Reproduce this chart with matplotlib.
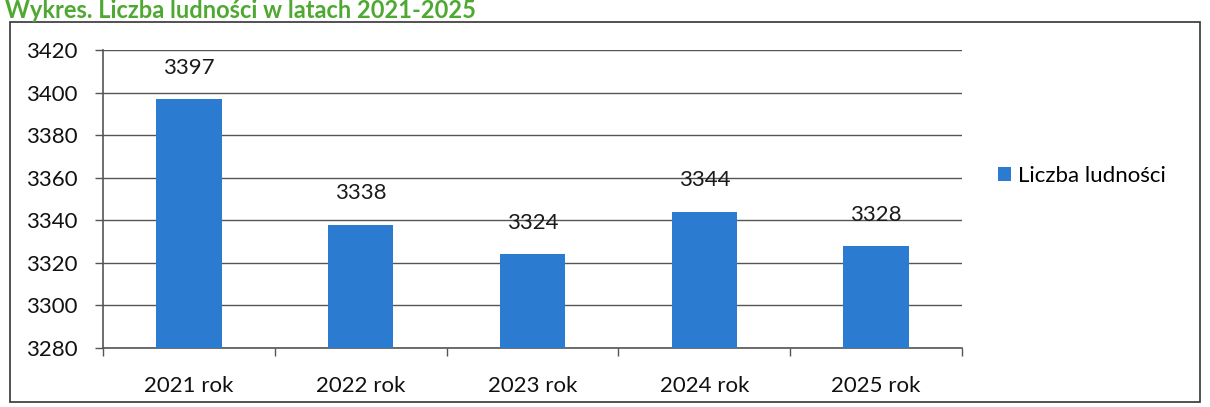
import matplotlib.pyplot as plt
from matplotlib.patches import Rectangle

# data
years = ['2021 rok', '2022 rok', '2023 rok', '2024 rok', '2025 rok']
population = [3397, 3338, 3324, 3344, 3328]
y_ticks = [3280, 3300, 3320, 3340, 3360, 3380, 3400, 3420]

plt.rcParams['font.family'] = ['Lato', 'DejaVu Sans']

fig = plt.figure(figsize=(12.10, 4.07), dpi=100)

# frame around the chart
fig.patches.append(Rectangle((10/1210, 1 - 402/407), 1190/1210, 380/407,
                             transform=fig.transFigure, fill=False,
                             edgecolor='#333333', linewidth=1.2))

# green title at the very top
fig.text(0.004, 1 - 18/407, 'Wykres. Liczba ludności w latach 2021-2025',
         color='#4ea832', fontsize=17, fontweight='bold', va='baseline')

ax = fig.add_axes([103/1210, 1 - 348/407, 859/1210, 298/407])

x = range(len(years))
bars = ax.bar(x, population, width=0.38, color='#2b7bd0', label='Liczba ludności', zorder=3)

for xi, v in zip(x, population):
    ax.text(xi, v + 10, str(v), ha='center', va='bottom', fontsize=16, color='#1a1a1a')

ax.set_ylim(3280, 3420)
ax.set_xlim(-0.5, len(years) - 0.5)
ax.set_yticks(y_ticks)
ax.set_yticklabels([str(t) for t in y_ticks], fontsize=16, color='#111111')
ax.tick_params(axis='y', length=6, width=1, color='#555555', pad=12)

# category labels centred, ticks between categories
ax.set_xticks(list(x))
ax.set_xticklabels(years, fontsize=16, color='#111111')
ax.tick_params(axis='x', length=0, pad=20)
ax.set_xticks([i + 0.5 for i in range(-1, len(years))], minor=True)
ax.tick_params(axis='x', which='minor', length=6, width=1, color='#555555')

ax.yaxis.grid(True, color='#555555', linewidth=1)
ax.set_axisbelow(True)
for s in ['top', 'right']:
    ax.spines[s].set_visible(False)
for s in ['left', 'bottom']:
    ax.spines[s].set_color('#555555')
    ax.spines[s].set_linewidth(1.2)

fig.legend(handles=[bars], labels=['Liczba ludności'], loc='center left',
           bbox_to_anchor=(978/1210, 1 - 176/407), frameon=False, fontsize=16,
           handlelength=0.6, handleheight=0.6, handletextpad=0.3)

fig.savefig('out.png', dpi=100)
